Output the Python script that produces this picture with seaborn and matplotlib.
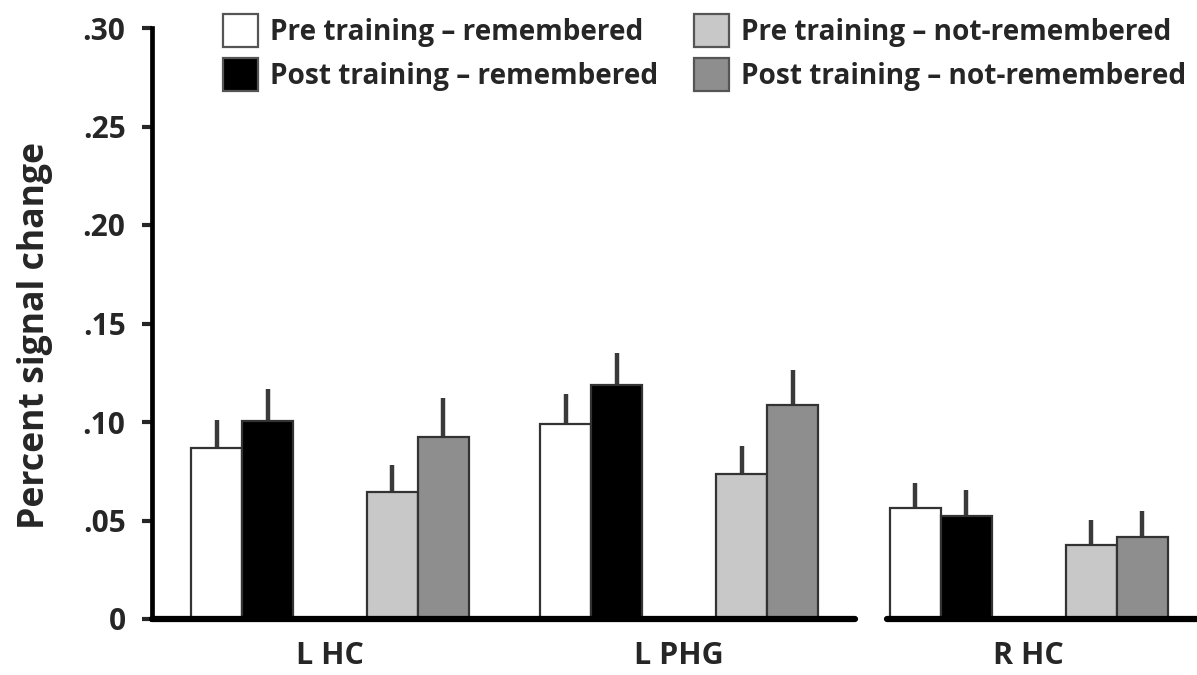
import numpy as np
import pandas as pd
import matplotlib
matplotlib.use("Agg")
import matplotlib.pyplot as plt
from matplotlib.patches import Patch
import seaborn as sns

# Regions of interest (x-axis categories)
regions = ["L HC", "L PHG", "R HC"]

# Conditions, in drawing order within each region
conditions = [
    "Pre training \u2013 remembered",
    "Post training \u2013 remembered",
    "Pre training \u2013 not-remembered",
    "Post training \u2013 not-remembered",
]

# Mean percent signal change per region, one list per condition
pre_remembered = [0.087, 0.099, 0.0565]
post_remembered = [0.1005, 0.119, 0.0525]
pre_not_remembered = [0.0645, 0.0735, 0.0375]
post_not_remembered = [0.0925, 0.1085, 0.0415]

# Standard error (upper bar only) per region
pre_remembered_se = [0.014, 0.015, 0.0125]
post_remembered_se = [0.0165, 0.016, 0.013]
pre_not_remembered_se = [0.0135, 0.0145, 0.013]
post_not_remembered_se = [0.0195, 0.018, 0.0135]

# Y-axis ticks and their labels
y_ticks = [0, 0.05, 0.10, 0.15, 0.20, 0.25, 0.30]
y_tick_labels = ["0", ".05", ".10", ".15", ".20", ".25", ".30"]

colors = ["#ffffff", "#000000", "#c8c8c8", "#8e8e8e"]

means = [pre_remembered, post_remembered, pre_not_remembered, post_not_remembered]
ses = [pre_remembered_se, post_remembered_se, pre_not_remembered_se, post_not_remembered_se]

# Layout of bars along a numeric x-axis (units of one bar width)
first_center = 1.265
region_step = 6.85
slot_offsets = [0.0, 1.0, 3.45, 4.45]

rows = []
for ci, cond in enumerate(conditions):
    for ri, reg in enumerate(regions):
        rows.append({
            "region": reg,
            "condition": cond,
            "pos": first_center + region_step * ri + slot_offsets[ci],
            "value": means[ci][ri],
            "se": ses[ci][ri],
        })
df = pd.DataFrame(rows)

sns.set_style("white")
plt.rcParams["font.family"] = ["Open Sans", "DejaVu Sans"]
plt.rcParams["font.weight"] = "bold"

fig = plt.figure(figsize=(11.97, 6.75), dpi=100)
ax = fig.add_axes([152 / 1197, 56 / 675, 1045 / 1197, 591 / 675])

palette = dict(zip(conditions, colors))
sns.barplot(
    data=df, x="pos", y="value", hue="condition", hue_order=conditions,
    palette=palette, native_scale=True, dodge=False, width=1.0,
    errorbar=None, edgecolor="#333333", linewidth=1.6, legend=False,
    saturation=1, ax=ax, zorder=3,
)

# Upper-only error bars
ax.errorbar(
    df["pos"], df["value"], yerr=[np.zeros(len(df)), df["se"]],
    fmt="none", ecolor="#3a3a3a", elinewidth=3.2, capsize=0, zorder=2,
)

ax.set_xlim(0, 1045 / 51)
ax.set_ylim(0, 0.30)
ax.set_yticks(y_ticks)
ax.set_yticklabels(y_tick_labels, fontsize=21.5, fontweight="bold")

centers = [first_center + region_step * ri + (slot_offsets[0] + slot_offsets[-1]) / 2
           for ri in range(len(regions))]
ax.set_xticks(centers)
ax.set_xticklabels(regions, fontsize=22, fontweight="bold")
ax.tick_params(axis="x", length=0, pad=16)
ax.tick_params(axis="y", direction="out", length=7, width=3, pad=12, left=True)

ax.set_xlabel("")
ax.set_ylabel("Percent signal change", fontsize=25.7, fontweight="bold")
ax.yaxis.set_label_coords(-0.095, 0.48)

for side in ["top", "right", "bottom"]:
    ax.spines[side].set_visible(False)
ax.spines["left"].set_linewidth(3.4)
ax.spines["left"].set_color("black")

# Broken baseline between the left hemisphere regions and R HC
ax.axhline(0, xmin=0, xmax=0.673, color="black", lw=4.5, clip_on=False, zorder=4)
ax.axhline(0, xmin=0.703, xmax=1.0, color="black", lw=4.5, clip_on=False, zorder=4)

handles = [Patch(facecolor=c, edgecolor="#555555", linewidth=1.6) for c in colors]
fig.legend(
    handles, conditions, ncol=2, loc="upper left",
    bbox_to_anchor=(223 / 1197, 1 - 14 / 675), bbox_transform=fig.transFigure,
    frameon=False, borderpad=0, borderaxespad=0,
    handlelength=1.25, handleheight=1.44, handletextpad=0.43,
    columnspacing=1.27, labelspacing=0.4,
    prop={"weight": "bold", "size": 20.2},
)

fig.savefig("out.png", dpi=100)
